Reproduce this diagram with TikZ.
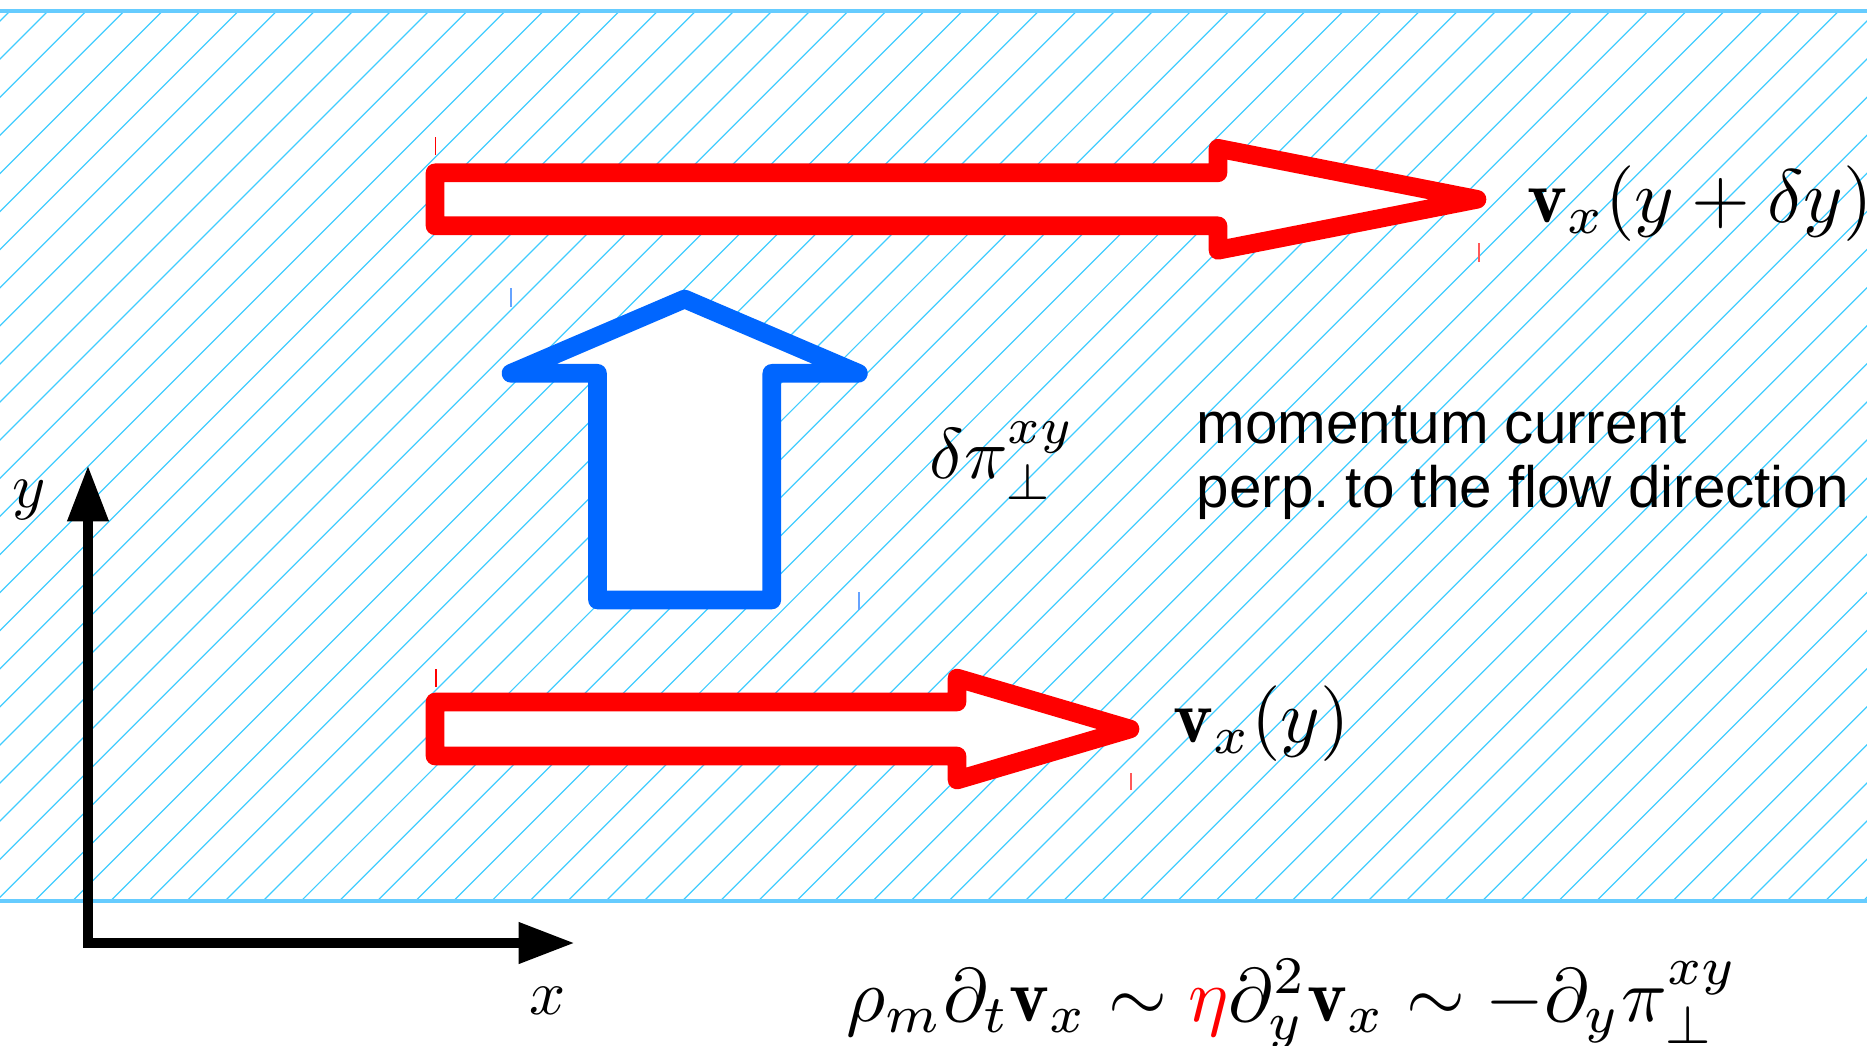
\documentclass[tikz,border=0pt]{standalone}
\usepackage{fontspec}
\newfontfamily\arialfont{Liberation Sans}
\usepackage{xcolor}
\usepackage{tikz}
\usetikzlibrary{arrows.meta}
\definecolor{hatchcol}{HTML}{40CCFF}
\definecolor{wallcol}{HTML}{66CCFF}
\definecolor{flowred}{HTML}{FF0000}
\definecolor{fluxblue}{HTML}{0066FF}
\tikzset{
  hatch/.style={hatchcol, line width=0.35pt},
  wall/.style={wallcol, line width=1pt},
  fatarr/.style={line width=5.3pt, line join=round, fill=white},
  bbtick/.style={line width=0.4pt},
  axis/.style={line width=3.1pt, {Triangle[length=16pt,width=11pt]}-{Triangle[length=16pt,width=11pt]}},
  mlbl/.style={font=\fontsize{10}{12}\selectfont, scale=2.15, inner sep=0pt, anchor=base west},
  albl/.style={font=\fontsize{10}{12}\selectfont, scale=1.8, inner sep=0pt},
  txt/.style={font=\arialfont\fontsize{16.6}{20}\selectfont, inner sep=0pt, anchor=base west}
}
\begin{document}
\begin{tikzpicture}[x=0.01cm, y=-0.01cm]
  \useasboundingbox (0,0) rectangle (1867,1045);
  \begin{scope}
    \clip (0,11) rectangle (1867,901);
    \foreach \k in {0,...,72}
      \draw[hatch] ({10+38.1*\k},11) -- ++(-890,890);
  \end{scope}
  \draw[wall] (0,11) -- (1867,11) (0,901) -- (1867,901);
  \draw[fatarr, draw=flowred] (435,172.8) -- (1218,172.8) -- (1218,148.3) -- (1477,199.3) -- (1218,250.3) -- (1218,225.8) -- (435,225.8) -- cycle;
  \draw[fatarr, draw=flowred] (435,702) -- (957,702) -- (957,678) -- (1130,729) -- (957,780) -- (957,756) -- (435,756) -- cycle;
  \draw[fatarr, draw=fluxblue] (597.5,600) -- (597.5,373.3) -- (511,373.3) -- (684.6,299) -- (858.4,373.3) -- (771.8,373.3) -- (771.8,600) -- cycle;
  \draw[bbtick, flowred] (435.7,137) -- (435.7,155) (436,669) -- (436,687);
  \draw[bbtick, flowred!65] (1479,243) -- (1479,262) (1131,773) -- (1131,790);
  \draw[bbtick, fluxblue!60, line width=0.5pt] (511,288) -- (511,307) (859,592) -- (859,610);
  \coordinate (O) at (88,943);
  \coordinate (xtip) at (575,943);
  \coordinate (ytip) at (88,465);
  \draw[axis] (xtip) -- (O) -- (ytip);
  \node[albl] (xlbl) at (548,1001) {$x$};
  \node[albl] (ylbl) at (29,500) {$y$};
  \node[mlbl] (vtop) at (1526,222) {$\mathbf{v}_x(y+\delta y)$};
  \node[mlbl] (vbot) at (1172,742) {$\mathbf{v}_x(y)$};
  \node[mlbl, scale=0.95] (dpi) at (928,478) {$\delta\pi_\perp^{xy}$};
  \node[txt] (mom1) at (1196,443) {momentum current};
  \node[txt] (mom2) at (1196,507) {perp.\ to the flow direction};
  \node[mlbl] (eqn) at (845,1021) {$\rho_m\partial_t\mathbf{v}_x \sim \textcolor{flowred}{\eta}\partial_y^2\mathbf{v}_x \sim -\partial_y\pi_\perp^{xy}$};
\end{tikzpicture}
\end{document}
